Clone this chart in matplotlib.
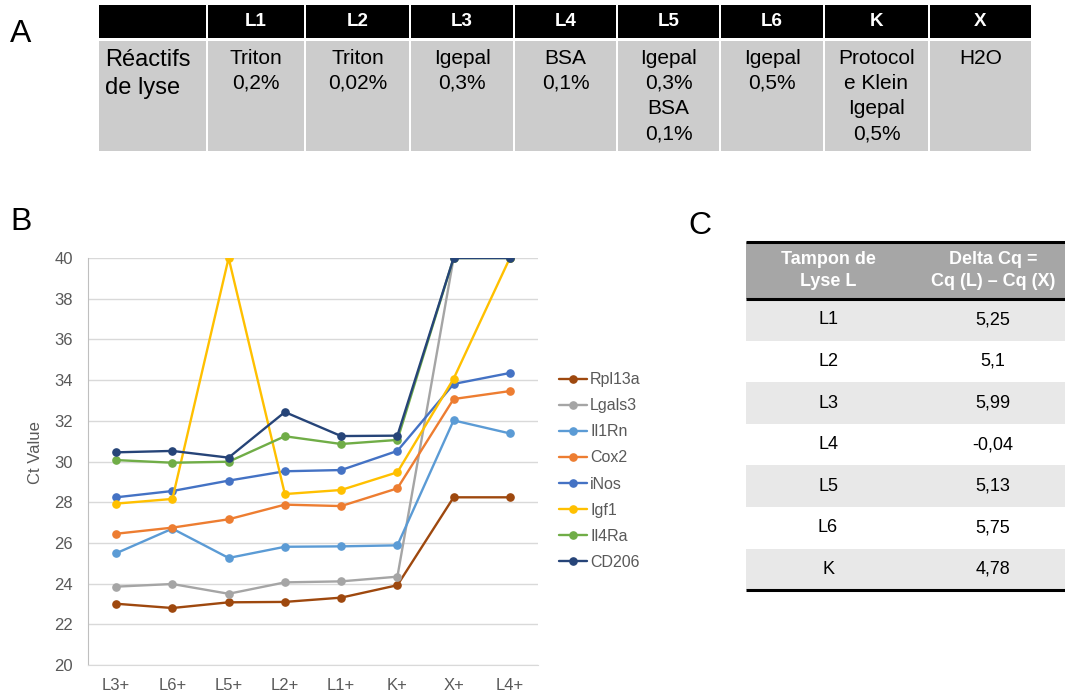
import matplotlib
matplotlib.use("Agg")
import matplotlib.pyplot as plt
from matplotlib.patches import Rectangle

plt.rcParams['font.family'] = ['Liberation Sans', 'DejaVu Sans']

# ---- panel A: lysis reagents ----
lysis_codes = ["L1", "L2", "L3", "L4", "L5", "L6", "K", "X"]
lysis_reagents = [
    ["Triton", "0,2%"],
    ["Triton", "0,02%"],
    ["Igepal", "0,3%"],
    ["BSA", "0,1%"],
    ["Igepal", "0,3%", "BSA", "0,1%"],
    ["Igepal", "0,5%"],
    ["Protocol", "e Klein", "Igepal", "0,5%"],
    ["H2O"],
]
row_title = ["Réactifs", "de lyse"]

# ---- panel B: Ct values per gene ----
samples = ["L3+", "L6+", "L5+", "L2+", "L1+", "K+", "X+", "L4+"]
rpl13a = [23.01, 22.80, 23.08, 23.10, 23.31, 23.92, 28.24, 28.24]
lgals3 = [23.85, 23.98, 23.50, 24.06, 24.11, 24.34, 40.0, 40.0]
il1rn = [25.49, 26.70, 25.26, 25.81, 25.83, 25.88, 32.02, 31.38]
cox2 = [26.45, 26.75, 27.16, 27.88, 27.81, 28.68, 33.07, 33.46]
inos = [28.24, 28.55, 29.06, 29.52, 29.58, 30.52, 33.81, 34.35]
igf1 = [27.93, 28.16, 40.0, 28.40, 28.60, 29.47, 34.07, 40.0]
il4ra = [30.07, 29.94, 29.99, 31.24, 30.86, 31.06, 40.0, 40.0]
cd206 = [30.45, 30.52, 30.19, 32.43, 31.25, 31.27, 40.0, 40.0]
gene_names = ["Rpl13a", "Lgals3", "Il1Rn", "Cox2", "iNos", "Igf1", "Il4Ra", "CD206"]
gene_colors = ["#9e480e", "#a5a5a5", "#5b9bd5", "#ed7d31",
               "#4472c4", "#ffc000", "#70ad47", "#264478"]

# ---- panel C: delta Cq ----
buffers = ["L1", "L2", "L3", "L4", "L5", "L6", "K"]
delta_cq = [5.25, 5.1, 5.99, -0.04, 5.13, 5.75, 4.78]

W, H = 1065, 698
fig = plt.figure(figsize=(W / 100, H / 100), dpi=100)

# overlay in pixel coordinates for tables and panel letters
ov = fig.add_axes([0, 0, 1, 1])
ov.set_xlim(0, W)
ov.set_ylim(H, 0)
ov.axis("off")

for letter, (lx, ly) in zip("ABC", [(10, 34), (10, 222), (688, 226)]):
    ov.text(lx, ly, letter, fontsize=23, va="center", ha="left", color="black")

# table A
col_edges = [98, 207, 305, 410, 514, 617, 720, 824, 929, 1032]
head_top, head_bot = 5, 38
body_top, body_bot = 41, 151
for i in range(len(col_edges) - 1):
    x0, x1 = col_edges[i], col_edges[i + 1]
    ov.add_patch(Rectangle((x0 + 1, head_top), x1 - x0 - 2, head_bot - head_top,
                           facecolor="black", edgecolor="none"))
    ov.add_patch(Rectangle((x0 + 1, body_top), x1 - x0 - 2, body_bot - body_top,
                           facecolor="#cccccc", edgecolor="none"))
for j, line in enumerate(row_title):
    ov.text(105, 60 + 28 * j, line, fontsize=17, ha="left", va="center", color="black")
for i, (code, lines) in enumerate(zip(lysis_codes, lysis_reagents)):
    cx = (col_edges[i + 1] + col_edges[i + 2]) / 2
    ov.text(cx, 21, code, fontsize=13.5, fontweight="bold", color="white",
            ha="center", va="center")
    for j, line in enumerate(lines):
        ov.text(cx, 58 + 25.3 * j, line, fontsize=15, ha="center", va="center",
                color="black")

# table C
c_left, c_right = 746, 1065
c_top, c_head_bot = 242, 299
row_h = 41.6
ov.add_patch(Rectangle((c_left, c_top), c_right - c_left, c_head_bot - c_top,
                       facecolor="#a6a6a6", edgecolor="none"))
for i in range(len(buffers)):
    y0 = c_head_bot + i * row_h
    if i % 2 == 0:
        ov.add_patch(Rectangle((c_left, y0), c_right - c_left, row_h,
                               facecolor="#e8e8e8", edgecolor="none"))
c_bottom = c_head_bot + len(buffers) * row_h
for yy in (c_top, c_head_bot, c_bottom):
    ov.plot([c_left, c_right], [yy, yy], color="black", lw=2.2, solid_capstyle="butt")
col1_x, col2_x = 828, 993
for j, (a, b) in enumerate(zip(["Tampon de", "Lyse L"], ["Delta Cq =", "Cq (L) – Cq (X)"])):
    ov.text(col1_x, 260 + 22 * j, a, fontsize=13, fontweight="bold", color="white",
            ha="center", va="center")
    ov.text(col2_x, 260 + 22 * j, b, fontsize=13, fontweight="bold", color="white",
            ha="center", va="center")
for i, (b, v) in enumerate(zip(buffers, delta_cq)):
    yc = c_head_bot + (i + 0.5) * row_h
    ov.text(col1_x, yc, b, fontsize=13, ha="center", va="center", color="black")
    ov.text(col2_x, yc, f"{v:g}".replace(".", ","), fontsize=13, ha="center",
            va="center", color="black")

# panel B chart
ax = fig.add_axes([88 / W, 1 - 665 / H, 450 / W, 407 / H])
xs = list(range(len(samples)))
series = [rpl13a, lgals3, il1rn, cox2, inos, igf1, il4ra, cd206]
for name, vals, col in zip(gene_names, series, gene_colors):
    ax.plot(xs, vals, color=col, lw=1.7, marker="o", markersize=5.2,
            label=name, solid_capstyle="round")
ax.set_xlim(-0.5, len(samples) - 0.5)
ax.set_ylim(20, 40)
ax.set_yticks(range(20, 41, 2))
ax.set_xticks(xs)
ax.set_xticklabels(samples)
ax.yaxis.grid(True, color="#d9d9d9", lw=1)
ax.set_axisbelow(True)
for s in ("top", "right"):
    ax.spines[s].set_visible(False)
ax.spines["left"].set_color("#bfbfbf")
ax.spines["bottom"].set_color("#d9d9d9")
ax.tick_params(axis="both", length=0, colors="#595959", labelsize=12)
ax.tick_params(axis="y", pad=11)
ax.tick_params(axis="x", pad=9)
fig.text(35 / W, 1 - 453 / H, "Ct Value", rotation=90, ha="center", va="center",
         fontsize=12, color="#595959")

leg = ax.legend(loc="center left", bbox_to_anchor=(559 / W, 1 - 471 / H),
                bbox_transform=fig.transFigure, frameon=False, fontsize=11.5,
                handlelength=1.75, handletextpad=0.2, labelspacing=0.69,
                borderpad=0, borderaxespad=0)
for t in leg.get_texts():
    t.set_color("#595959")

fig.savefig("out.png", dpi=100)
